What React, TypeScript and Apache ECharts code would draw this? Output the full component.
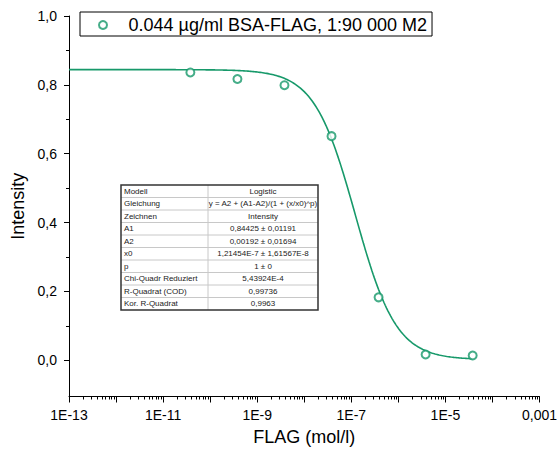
import React, { useEffect, useRef } from "react";
import * as echarts from "echarts";

// ---- data ----
const concentrations = [3.8e-11, 3.8e-10, 3.8e-9, 3.8e-8, 3.8e-7, 3.8e-6, 3.8e-5]; // mol/l
const intensities = [0.836, 0.817, 0.799, 0.651, 0.183, 0.017, 0.014];
const seriesName = "0.044 µg/ml BSA-FLAG, 1:90 000 M2";

// fit parameters (Logistic) as reported in the table
const A1 = 0.84425;
const A2 = 0.00192;
const X0 = 1.21454e-7;
const P = 1;

const tableLabels = [
  "Modell",
  "Gleichung",
  "Zeichnen",
  "A1",
  "A2",
  "x0",
  "p",
  "Chi-Quadr Reduziert",
  "R-Quadrat (COD)",
  "Kor. R-Quadrat",
];
const tableValues = [
  "Logistic",
  "y = A2 + (A1-A2)/(1 + (x/x0)^p)",
  "Intensity",
  "0,84425 ± 0,01191",
  "0,00192 ± 0,01694",
  "1,21454E-7 ± 1,61567E-8",
  "1 ± 0",
  "5,43924E-4",
  "0,99736",
  "0,9963",
];

const xMinExp = -13;
const xMaxExp = -3;
const yMajorTicks = [0, 0.2, 0.4, 0.6, 0.8, 1.0];
const yMinorTicks = [0.1, 0.3, 0.5, 0.7, 0.9];

const GREEN = "#17996a";
const FONT = '"Liberation Sans", Arial, sans-serif';

export default function App() {
  const ref = useRef<HTMLDivElement>(null);
  useEffect(() => {
    if (!ref.current) return;
    document.body.style.margin = "0";
    const chart = echarts.init(ref.current, undefined, { renderer: "svg" });

    const logX = concentrations.map((c) => Math.log10(c));
    const scatterData = logX.map((lx, i) => [lx, intensities[i]]);

    // fitted logistic curve evaluated from the reported parameters
    const fitData: number[][] = [];
    const lastLog = logX[logX.length - 1];
    const steps = 300;
    for (let i = 0; i <= steps; i++) {
      const lx = xMinExp + ((lastLog - xMinExp) * i) / steps;
      const x = Math.pow(10, lx);
      fitData.push([lx, A2 + (A1 - A2) / (1 + Math.pow(x / X0, P))]);
    }

    const minorX: number[] = [];
    for (let e = xMinExp; e < xMaxExp; e++) {
      for (let k = 2; k <= 9; k++) minorX.push(e + Math.log10(k));
    }

    // table
    const tLeft = 121;
    const tTop = 185;
    const col1 = 87;
    const col2 = 110;
    const rowH = 12.5;
    const tW = col1 + col2;
    const tH = rowH * tableLabels.length;
    const tableChildren: any[] = [
      {
        type: "rect",
        shape: { x: tLeft, y: tTop, width: tW, height: tH },
        style: { fill: "#fff", stroke: "none" },
      },
    ];
    for (let i = 1; i < tableLabels.length; i++) {
      tableChildren.push({
        type: "line",
        shape: { x1: tLeft, y1: tTop + i * rowH, x2: tLeft + tW, y2: tTop + i * rowH },
        style: { stroke: "#c8c8c8", lineWidth: 1 },
      });
    }
    tableChildren.push({
      type: "line",
      shape: { x1: tLeft + col1, y1: tTop, x2: tLeft + col1, y2: tTop + tH },
      style: { stroke: "#c8c8c8", lineWidth: 1 },
    });
    tableChildren.push({
      type: "rect",
      shape: { x: tLeft, y: tTop, width: tW, height: tH },
      style: { fill: "none", stroke: "#333", lineWidth: 1.5 },
    });
    tableLabels.forEach((lab, i) => {
      tableChildren.push({
        type: "text",
        x: tLeft + 3,
        y: tTop + i * rowH + rowH / 2,
        style: {
          text: lab,
          font: `8px ${FONT}`,
          fill: "#222",
          textAlign: "left",
          textVerticalAlign: "middle",
        },
      });
      tableChildren.push({
        type: "text",
        x: tLeft + col1 + col2 / 2,
        y: tTop + i * rowH + rowH / 2,
        style: {
          text: tableValues[i],
          font: `8px ${FONT}`,
          fill: "#222",
          textAlign: "center",
          textVerticalAlign: "middle",
        },
      });
    });

    const fmt1 = (v: number) => v.toFixed(1).replace(".", ",");

    chart.setOption({
      animation: false,
      textStyle: { fontFamily: FONT },
      grid: { left: 69, top: 16, right: 19, bottom: 59.5, containLabel: false },
      legend: {
        data: [{ name: seriesName, icon: "emptyCircle" }],
        left: 80,
        top: 12,
        padding: [4, 5, 2, 18],
        itemWidth: 25,
        itemHeight: 8,
        borderColor: "#000",
        borderWidth: 1,
        selectedMode: false,
        itemStyle: { borderWidth: 1.5 },
        textStyle: {
          fontSize: 18,
          color: "#000",
          fontFamily: FONT,
          padding: [0, 0, 0, 8],
        },
      },
      xAxis: [
        {
          type: "value",
          min: xMinExp,
          max: xMaxExp,
          interval: 1,
          name: "FLAG (mol/l)",
          nameLocation: "middle",
          nameGap: 31,
          nameTextStyle: { fontSize: 18, color: "#000", fontFamily: FONT },
          axisLine: { onZero: false, lineStyle: { color: "#000", width: 1 } },
          axisTick: { length: 6, lineStyle: { color: "#000" } },
          axisLabel: {
            fontSize: 14,
            color: "#000",
            margin: 11,
            fontFamily: FONT,
            formatter: (v: number) => {
              const n = Math.round(v);
              if ((n - xMinExp) % 2 !== 0) return "";
              if (n === -3) return "0,001";
              return "1E" + n;
            },
          },
          splitLine: { show: false },
        },
        {
          type: "value",
          min: xMinExp,
          max: xMaxExp,
          position: "bottom",
          axisLine: { show: false, onZero: false },
          axisLabel: { show: false },
          axisTick: { show: true, length: 3, customValues: minorX, lineStyle: { color: "#000" } },
          splitLine: { show: false },
        },
      ],
      yAxis: [
        {
          type: "value",
          min: -0.105,
          max: 1.0,
          name: "Intensity",
          nameLocation: "middle",
          nameGap: 38,
          nameTextStyle: { fontSize: 18, color: "#000", fontFamily: FONT },
          axisLine: { show: true, onZero: false, lineStyle: { color: "#000", width: 1 } },
          axisTick: { show: true, length: 5, customValues: yMajorTicks, lineStyle: { color: "#000" } },
          axisLabel: {
            fontSize: 14,
            color: "#000",
            margin: 12,
            fontFamily: FONT,
            customValues: yMajorTicks,
            formatter: (v: number) => fmt1(v),
          },
          splitLine: { show: false },
        },
        {
          type: "value",
          min: -0.105,
          max: 1.0,
          position: "left",
          axisLine: { show: false, onZero: false },
          axisLabel: { show: false },
          axisTick: { show: true, length: 3, customValues: yMinorTicks, lineStyle: { color: "#000" } },
          splitLine: { show: false },
        },
      ],
      graphic: [{ type: "group", z: 100, children: tableChildren }],
      series: [
        {
          type: "line",
          name: "fit",
          data: fitData,
          showSymbol: false,
          symbol: "none",
          lineStyle: { color: GREEN, width: 1.6 },
          silent: true,
          z: 2,
        },
        {
          type: "scatter",
          name: seriesName,
          data: scatterData,
          symbol: "emptyCircle",
          symbolSize: 8,
          itemStyle: { color: GREEN, borderColor: GREEN, borderWidth: 1.5 },
          z: 3,
        },
      ],
    });
    return () => chart.dispose();
  }, []);
  return (
    <div
      ref={ref}
      style={{ width: 560, height: 456, position: "absolute", left: 0, top: 0 }}
    />
  );
}
